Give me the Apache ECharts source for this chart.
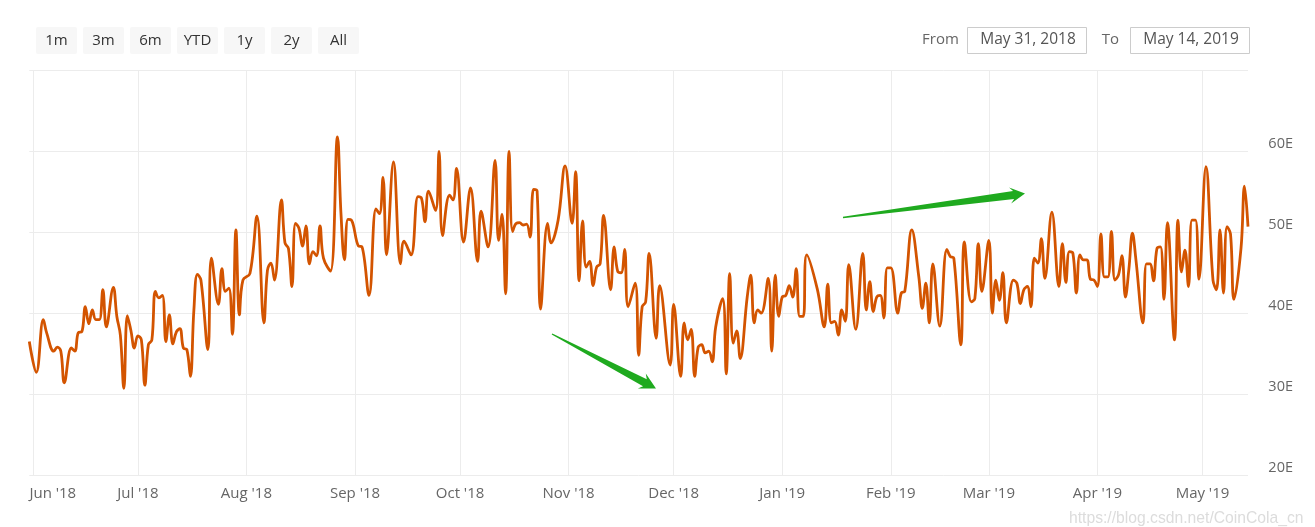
<!DOCTYPE html>
<html>
<head>
<meta charset="utf-8">
<script src="https://cdn.jsdelivr.net/npm/echarts@6/dist/echarts.min.js"></script>
<style>
html,body{margin:0;padding:0;background:#fff;}
#chart{width:1315px;height:527px;}
</style>
</head>
<body>
<div id="chart"></div>
<script>
// ---- data ----
var dates = [
'2018-05-31','2018-06-02','2018-06-04','2018-06-05','2018-06-07','2018-06-08','2018-06-09','2018-06-10','2018-06-12','2018-06-13',
'2018-06-14','2018-06-15','2018-06-16','2018-06-17','2018-06-18','2018-06-19','2018-06-20','2018-06-21','2018-06-22','2018-06-24',
'2018-06-25','2018-06-26','2018-06-27','2018-06-28','2018-06-29','2018-06-30','2018-07-01','2018-07-02','2018-07-03','2018-07-04',
'2018-07-05','2018-07-06','2018-07-07','2018-07-08','2018-07-09','2018-07-10','2018-07-11','2018-07-12','2018-07-13','2018-07-14',
'2018-07-15','2018-07-16','2018-07-17','2018-07-18','2018-07-19','2018-07-21','2018-07-22','2018-07-24','2018-07-25','2018-07-26',
'2018-07-27','2018-07-28','2018-07-29','2018-07-30','2018-07-31','2018-08-02','2018-08-04','2018-08-06','2018-08-07','2018-08-08',
'2018-08-09','2018-08-11','2018-08-12','2018-08-13','2018-08-14','2018-08-15','2018-08-16','2018-08-17','2018-08-18','2018-08-19',
'2018-08-20','2018-08-21','2018-08-22','2018-08-23','2018-08-25','2018-08-27','2018-08-28','2018-08-29','2018-08-30','2018-08-31',
'2018-09-02','2018-09-03','2018-09-05','2018-09-07','2018-09-08','2018-09-09','2018-09-10','2018-09-12','2018-09-14','2018-09-15',
'2018-09-17','2018-09-19','2018-09-20','2018-09-21','2018-09-22','2018-09-24','2018-09-25','2018-09-26','2018-09-28','2018-09-29',
'2018-09-30','2018-10-02','2018-10-04','2018-10-06','2018-10-07','2018-10-09','2018-10-11','2018-10-12','2018-10-13','2018-10-14',
'2018-10-15','2018-10-16','2018-10-17','2018-10-18','2018-10-19','2018-10-20','2018-10-21','2018-10-22','2018-10-23','2018-10-24',
'2018-10-26','2018-10-27','2018-10-29','2018-10-31','2018-11-02','2018-11-03','2018-11-04','2018-11-05','2018-11-06','2018-11-07',
'2018-11-08','2018-11-09','2018-11-10','2018-11-11','2018-11-13','2018-11-14','2018-11-15','2018-11-16','2018-11-17','2018-11-18',
'2018-11-20','2018-11-21','2018-11-22','2018-11-23','2018-11-24','2018-11-26','2018-11-27','2018-11-30','2018-12-01','2018-12-03',
'2018-12-04','2018-12-05','2018-12-06','2018-12-07','2018-12-08','2018-12-09','2018-12-10','2018-12-11','2018-12-12','2018-12-13',
'2018-12-15','2018-12-16','2018-12-17','2018-12-18','2018-12-19','2018-12-20','2018-12-22','2018-12-23','2018-12-24','2018-12-25',
'2018-12-26','2018-12-28','2018-12-29','2018-12-30','2018-12-31','2019-01-01','2019-01-02','2019-01-03','2019-01-04','2019-01-05',
'2019-01-06','2019-01-07','2019-01-08','2019-01-11','2019-01-13','2019-01-14','2019-01-15','2019-01-16','2019-01-17','2019-01-18',
'2019-01-19','2019-01-20','2019-01-22','2019-01-24','2019-01-25','2019-01-26','2019-01-27','2019-01-28','2019-01-29','2019-01-30',
'2019-01-31','2019-02-01','2019-02-03','2019-02-04','2019-02-05','2019-02-07','2019-02-09','2019-02-10','2019-02-11','2019-02-12',
'2019-02-13','2019-02-15','2019-02-17','2019-02-18','2019-02-19','2019-02-21','2019-02-22','2019-02-24','2019-02-25','2019-02-26',
'2019-02-27','2019-03-01','2019-03-02','2019-03-03','2019-03-04','2019-03-05','2019-03-06','2019-03-08','2019-03-09','2019-03-10',
'2019-03-11','2019-03-12','2019-03-13','2019-03-14','2019-03-15','2019-03-16','2019-03-17','2019-03-19','2019-03-21','2019-03-22',
'2019-03-23','2019-03-24','2019-03-25','2019-03-26','2019-03-27','2019-03-28','2019-03-29','2019-03-30','2019-03-31','2019-04-01',
'2019-04-02','2019-04-03','2019-04-04','2019-04-05','2019-04-06','2019-04-07','2019-04-08','2019-04-09','2019-04-10','2019-04-11',
'2019-04-12','2019-04-14','2019-04-15','2019-04-16','2019-04-17','2019-04-18','2019-04-19','2019-04-20','2019-04-21','2019-04-23',
'2019-04-24','2019-04-25','2019-04-26','2019-04-27','2019-04-28','2019-04-29','2019-04-30','2019-05-02','2019-05-04','2019-05-05',
'2019-05-06','2019-05-07','2019-05-08','2019-05-09','2019-05-10','2019-05-12','2019-05-13','2019-05-14'
];
var values = [
36.5,32.7,39.2,37.5,35.3,35.8,35.3,31.4,35.7,35.3,
37.6,37.7,40.8,38.7,40.4,39.2,39.2,42.9,38.3,43.2,
39.6,37.3,30.7,39.7,37.9,35.7,37.2,36.7,31.1,36.1,
36.7,42.7,41.9,42.2,36.5,39.8,36.2,37.7,38.1,35.7,
35.5,32.2,40.4,44.8,44.1,35.5,46.8,41.1,45.5,42.7,
43.1,37.4,50.3,39.8,44.1,44.9,52.0,38.8,45.3,46.2,
44.1,54.0,48.7,48.0,43.3,51.1,50.5,48.3,50.8,46.1,
47.6,47.1,50.8,46.8,45.2,61.8,52.3,46.6,51.6,51.5,
48.3,48.2,42.2,52.9,52.3,56.8,47.2,58.7,46.1,48.9,
47.2,54.4,54.2,51.3,55.1,52.7,60.0,49.6,54.6,54.0,
57.9,48.8,55.5,46.4,52.6,48.2,58.9,49.0,52.2,42.4,
60.0,50.1,51.1,51.2,50.9,51.0,49.4,55.3,55.1,40.5,
51.1,48.7,51.5,58.2,51.1,57.5,44.0,51.4,45.7,46.4,
43.4,45.7,46.1,52.1,42.9,48.2,45.2,45.0,47.9,40.8,
43.7,34.8,40.8,41.4,47.4,36.9,43.4,33.6,41.1,32.2,
38.8,36.7,38.0,32.2,35.8,36.1,35.1,35.3,34.0,38.3,
41.8,32.5,44.9,36.3,37.8,34.4,42.0,44.7,38.8,40.4,
40.0,44.3,35.3,44.7,39.6,42.0,42.2,43.4,42.0,45.5,
39.6,39.6,47.2,43.0,38.3,43.6,38.8,39.0,37.3,40.4,
39.0,46.0,38.0,47.4,40.4,43.9,40.2,42.0,42.2,39.4,
45.6,45.6,40.0,42.5,42.7,50.3,44.5,40.6,43.7,38.8,
46.1,38.4,47.9,47.0,46.8,36.1,48.8,41.4,41.8,48.6,
42.7,49.0,40.0,44.1,41.6,45.0,38.8,44.1,43.7,41.2,
42.9,43.3,40.8,46.8,46.2,49.2,44.3,52.5,43.3,48.6,
43.8,47.6,47.4,42.5,47.2,46.6,46.6,44.2,44.1,43.3,
49.8,44.5,44.5,50.1,44.1,44.7,47.1,42.0,45.5,49.9,
46.6,38.8,46.1,46.1,44.0,48.0,48.2,41.7,51.2,36.7,
51.5,45.1,47.8,43.3,51.5,51.5,44.2,58.1,44.1,42.9,
50.3,42.5,50.7,49.8,41.7,48.0,55.7,50.7
];
var rangeButtons = ['1m','3m','6m','YTD','1y','2y','All'];
var fromDate = 'May 31, 2018';
var toDate = 'May 14, 2019';
var monthNames = ['Jan','Feb','Mar','Apr','May','Jun','Jul','Aug','Sep','Oct','Nov','Dec'];
var axisMin = '2018-05-31', axisMax = '2019-05-14';
var yTicks = [20,30,40,50,60,70];

// ---- build ----
function pad(n){ return (n < 10 ? '0' : '') + n; }
function parseDate(s){ var p = s.split('-'); return new Date(+p[0], +p[1]-1, +p[2]); }
function fmt(d){ return d.getFullYear() + '-' + pad(d.getMonth()+1) + '-' + pad(d.getDate()); }
var days = [];
var cur = parseDate(axisMin), end = parseDate(axisMax);
while (cur.getTime() <= end.getTime()) { days.push(fmt(cur)); cur = new Date(cur.getFullYear(), cur.getMonth(), cur.getDate() + 1); }
var lookup = {};
dates.forEach(function(d, i){ lookup[d] = values[i]; });
var seriesData = days.map(function(d){ return lookup.hasOwnProperty(d) ? lookup[d] : null; });
function isMonthStart(idx, val){ return String(val).slice(8) === '01'; }

var chart = echarts.init(document.getElementById('chart'), null, {renderer:'canvas'});
var FONT = '"Open Sans", "Noto Sans", sans-serif';
var gridColor = '#ececec';

var graphics = [];
rangeButtons.forEach(function(t, i){
  graphics.push({type:'rect', shape:{x:36 + i*47, y:27, width:41, height:27, r:2}, style:{fill:'#f7f7f7'}, silent:true});
  graphics.push({type:'text', x:36 + i*47 + 20.5, y:40.5, style:{text:t, fill:'#333333', font:'15px ' + FONT, textAlign:'center', textVerticalAlign:'middle'}, silent:true});
});
graphics.push({type:'text', x:940.5, y:40, style:{text:'From', fill:'#666666', font:'15px ' + FONT, textAlign:'center', textVerticalAlign:'middle'}});
graphics.push({type:'rect', shape:{x:967.5, y:27.5, width:119, height:26}, style:{fill:'#fff', stroke:'#cccccc', lineWidth:1}});
graphics.push({type:'text', x:1028, y:40, style:{text:fromDate, fill:'#555555', font:'15.5px ' + FONT, textAlign:'center', textVerticalAlign:'middle'}});
graphics.push({type:'text', x:1110.5, y:40, style:{text:'To', fill:'#666666', font:'15px ' + FONT, textAlign:'center', textVerticalAlign:'middle'}});
graphics.push({type:'rect', shape:{x:1130.5, y:27.5, width:119, height:26}, style:{fill:'#fff', stroke:'#cccccc', lineWidth:1}});
graphics.push({type:'text', x:1191, y:40, style:{text:toDate, fill:'#555555', font:'15.5px ' + FONT, textAlign:'center', textVerticalAlign:'middle'}});
graphics.push({type:'text', x:1069, y:519, style:{text:'https://blog.csdn.net/CoinCola_cn', fill:'#dcdcdc', font:'15.7px "Liberation Sans", Arial, sans-serif', textAlign:'left', textVerticalAlign:'middle'}, z:100});

function arrow(sx, sy, tx, ty, headLen, headW, shaftW, tailW){
  var dx = tx - sx, dy = ty - sy, L = Math.sqrt(dx*dx + dy*dy);
  var ux = dx / L, uy = dy / L, nx = -uy, ny = ux;
  var bx = tx - ux*headLen, by = ty - uy*headLen;
  var bbx = bx - ux*3.5, bby = by - uy*3.5;
  return [
    [sx + nx*tailW, sy + ny*tailW],
    [bx + nx*shaftW, by + ny*shaftW],
    [bbx + nx*headW, bby + ny*headW],
    [tx, ty],
    [bbx - nx*headW, bby - ny*headW],
    [bx - nx*shaftW, by - ny*shaftW],
    [sx - nx*tailW, sy - ny*tailW]
  ];
}
graphics.push({type:'polygon', shape:{points: arrow(552, 334, 656, 388.5, 12.5, 8.5, 4, 0.7)}, style:{fill:'#1faa1f'}, z:100});
graphics.push({type:'polygon', shape:{points: arrow(843, 217.5, 1025, 193.5, 11.5, 8, 4, 0.7)}, style:{fill:'#1faa1f'}, z:100});

chart.setOption({
  animation: false,
  backgroundColor: '#ffffff',
  grid: {left: 29.3, right: 67, top: 70.5, bottom: 52},
  xAxis: {
    type: 'category',
    data: days,
    boundaryGap: false,
    axisLine: {show:false},
    axisTick: {show:false},
    splitLine: {show:true, interval: isMonthStart, lineStyle:{color:gridColor, width:1}},
    axisLabel: {
      interval: isMonthStart,
      color: '#666666', fontSize: 15, fontFamily: FONT, margin: 11,
      formatter: function(v){
        var d = parseDate(v);
        var s = monthNames[d.getMonth()] + " '" + String(d.getFullYear()).slice(2);
        if (v === days[1]) return '{first|' + s + '}';
        return s;
      },
      rich: {first: {color:'#666666', fontSize:15, fontFamily:FONT, padding:[0,0,0,40]}}
    }
  },
  yAxis: {
    type: 'value', position: 'right',
    min: yTicks[0], max: yTicks[yTicks.length-1], interval: 10,
    axisLine: {show:false}, axisTick: {show:false},
    splitLine: {lineStyle:{color:gridColor, width:1}},
    axisLabel: {
      color: '#666666', fontSize: 14.5, fontFamily: FONT, margin: 45, align: 'right', verticalAlign: 'bottom',
      formatter: function(v){ return v === 70 ? '' : v + 'E'; }
    }
  },
  series: [{
    type: 'line', data: seriesData, showSymbol: false, smooth: 0.4, connectNulls: true,
    lineStyle: {color:'#d35400', width:2.8},
    itemStyle: {color:'#d35400'}
  }],
  graphic: graphics
});
</script>
</body>
</html>
